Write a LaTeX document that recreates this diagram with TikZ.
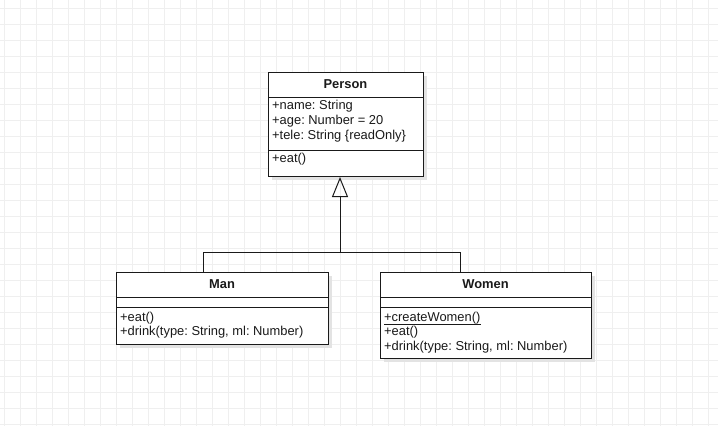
\documentclass[tikz,border=0pt]{standalone}
\usepackage{fontspec}
\setmainfont{Liberation Sans}
\usetikzlibrary{arrows.meta}
\definecolor{gridc}{HTML}{EFEFEF}
\definecolor{shadowc}{HTML}{E3E3E3}
\definecolor{ink}{HTML}{1A1A1A}
\tikzset{
  classbox/.style={draw=ink, line width=1pt, fill=white, rectangle, anchor=north west, inner sep=0pt},
  shadowbox/.style={fill=shadowc, draw=none, rectangle, anchor=north west, inner sep=0pt},
  title/.style={font=\fontsize{12.9}{15}\selectfont\bfseries, text=ink, anchor=center, inner sep=0pt},
  member/.style={font=\fontsize{12.9}{15}\selectfont, text=ink, anchor=west, inner sep=0pt},
  sep/.style={draw=ink, line width=1pt},
  gen/.style={draw=ink, line width=1pt},
}
\frenchspacing
\begin{document}
\begin{tikzpicture}[x=1pt,y=-1pt]
\useasboundingbox (0,0) rectangle (718,426);
\fill[white] (0,0) rectangle (718,426);
\foreach \x in {4,20,...,716} \draw[gridc, line width=0.8pt] (\x,0) -- (\x,426);
\foreach \y in {8,24,...,424} \draw[gridc, line width=0.8pt] (0,\y) -- (718,\y);

% shadows
\node[shadowbox, minimum width=155pt, minimum height=104pt] at (272,76) {};
\node[shadowbox, minimum width=212pt, minimum height=72pt] at (120,276) {};
\node[shadowbox, minimum width=211pt, minimum height=86pt] at (384,276) {};

% Person
\node[classbox, minimum width=155pt, minimum height=104pt] (person) at (268,72) {};
\draw[sep] ([yshift=-25pt]person.north west) -- ([yshift=-25pt]person.north east);
\draw[sep] ([yshift=-78pt]person.north west) -- ([yshift=-78pt]person.north east);
\node[title] (ptitle) at (345.5,84.5) {Person};
\node[member] (pa1) at (272,106) {+name: String};
\node[member] (pa2) at (272,121) {+age: Number = 20};
\node[member] (pa3) at (272,136) {+tele: String \{readOnly\}};
\node[member] (pm1) at (272,159) {+eat()};

% Man
\node[classbox, minimum width=212pt, minimum height=72pt] (man) at (116,272) {};
\draw[sep] ([yshift=-25pt]man.north west) -- ([yshift=-25pt]man.north east);
\draw[sep] ([yshift=-35pt]man.north west) -- ([yshift=-35pt]man.north east);
\node[title] (mtitle) at (222,284.5) {Man};
\node[member] (mm1) at (120,318) {+eat()};
\node[member] (mm2) at (120,332) {+drink(type: String, ml: Number)};

% Women
\node[classbox, minimum width=211pt, minimum height=86pt] (women) at (380,272) {};
\draw[sep] ([yshift=-25pt]women.north west) -- ([yshift=-25pt]women.north east);
\draw[sep] ([yshift=-35pt]women.north west) -- ([yshift=-35pt]women.north east);
\node[title] (wtitle) at (485.5,284.5) {Women};
\node[member] (wm1) at (384,318) {+createWomen()};
\draw[ink, line width=0.8pt] ([yshift=-0.3pt]wm1.south west) -- ([yshift=-0.3pt]wm1.south east);
\node[member] (wm2) at (384,332) {+eat()};
\node[member] (wm3) at (384,347) {+drink(type: String, ml: Number)};

% generalization
\coordinate (j) at (340,252);
\draw[gen] ([xshift=80pt]women.north west) |- (j);
\draw[gen, -{Triangle[open, length=20pt, width=16pt, line width=1pt]}] ([xshift=87pt]man.north west) |- (j) -- ([xshift=72pt]person.south west);
\end{tikzpicture}
\end{document}
